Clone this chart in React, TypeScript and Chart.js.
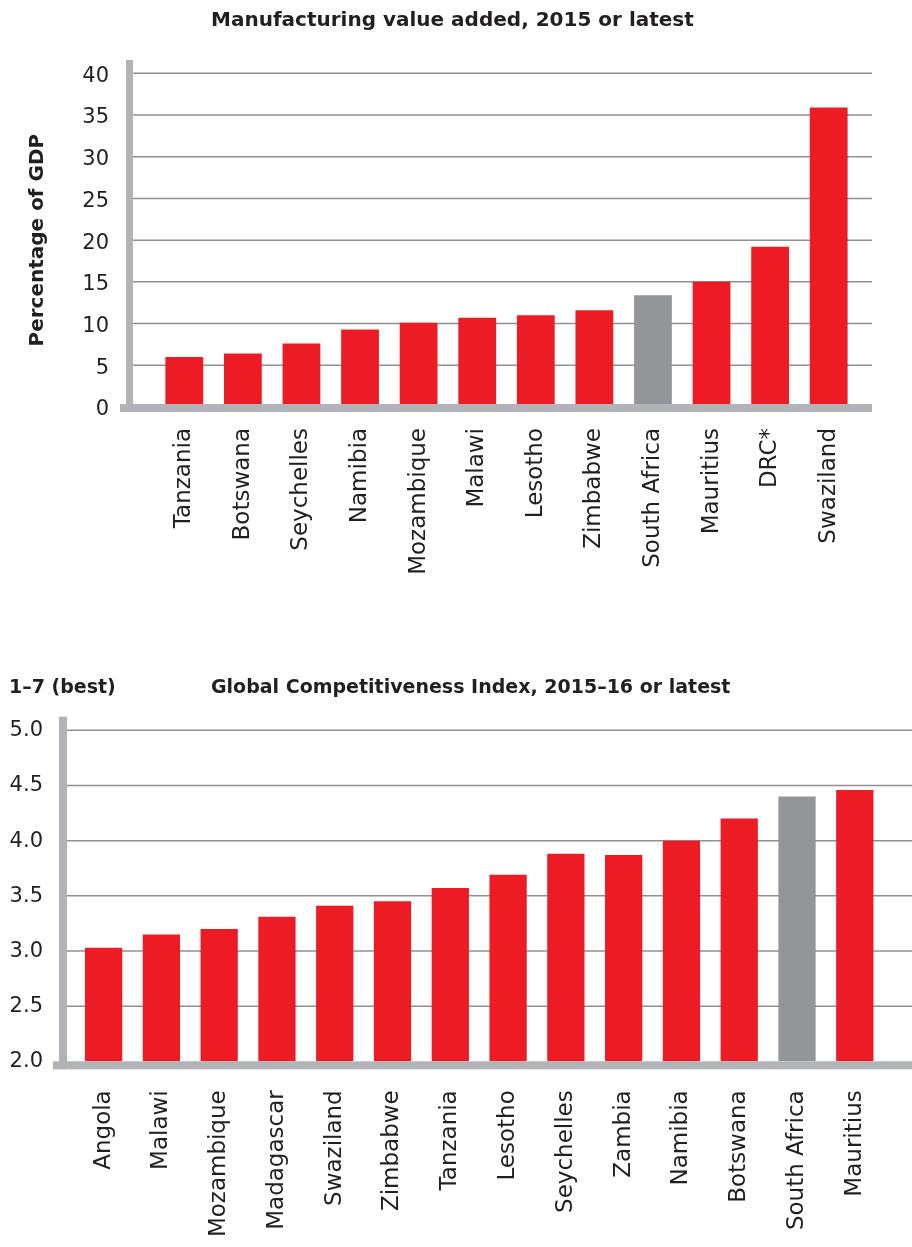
import React, { useEffect, useRef } from 'react';
import { Chart, registerables } from 'chart.js';

Chart.register(...registerables);

// Colours
const RED = '#ed1c24';
const GREY_BAR = '#939598';
const GRID = '#8e9093';
const AXIS = '#b1b3b6';
const INK = '#231f20';
const HIGHLIGHT = 'South Africa';

// Manufacturing value added, % of GDP
const mvaCountries = [
  'Tanzania', 'Botswana', 'Seychelles', 'Namibia', 'Mozambique', 'Malawi',
  'Lesotho', 'Zimbabwe', 'South Africa', 'Mauritius', 'DRC*', 'Swaziland',
];
const mvaValues = [6.0, 6.4, 7.6, 9.3, 10.1, 10.7, 11.0, 11.6, 13.4, 15.0, 19.2, 35.9];

// Global Competitiveness Index score, 1–7
const gciCountries = [
  'Angola', 'Malawi', 'Mozambique', 'Madagascar', 'Swaziland', 'Zimbabwe', 'Tanzania',
  'Lesotho', 'Seychelles', 'Zambia', 'Namibia', 'Botswana', 'South Africa', 'Mauritius',
];
const gciValues = [3.03, 3.15, 3.2, 3.31, 3.41, 3.45, 3.57, 3.69, 3.88, 3.87, 4.0, 4.2, 4.4, 4.46];

type Panel = {
  labels: string[];
  values: number[];
  min: number;
  max: number;
  step: number;
  decimals: number;
  title: string;
  titleSize: number;
  unit?: string;
  yTitle?: string;
  // layout (canvas pixels)
  top: number;
  height: number;
  plotLeft: number;
  plotRight: number;
  plotTop: number;
  plotBottom: number;
  gridLeft: number;
  gridRight: number;
  axisLeft: number;
  axisWidth: number;
  axisTop: number;
  baseLeft: number;
  baseOffset: number;
  yTickPad: number;
  yLabelOffset: number;
  xTickPad: number;
  titleX: number;
  titleY: number;
};

const mvaPanel: Panel = {
  labels: mvaCountries,
  values: mvaValues,
  min: 0,
  max: 40,
  step: 5,
  decimals: 0,
  title: 'Manufacturing value added, 2015 or latest',
  titleSize: 20,
  yTitle: 'Percentage of GDP',
  top: 0,
  height: 640,
  plotLeft: 155,
  plotRight: 858,
  plotTop: 73.3,
  plotBottom: 407,
  gridLeft: 133,
  gridRight: 872,
  axisLeft: 126,
  axisWidth: 7,
  axisTop: 60,
  baseLeft: 120,
  baseOffset: -3,
  yTickPad: 46,
  yLabelOffset: 3,
  xTickPad: 21,
  titleX: 211,
  titleY: 21,
};

const gciPanel: Panel = {
  labels: gciCountries,
  values: gciValues,
  min: 2,
  max: 5,
  step: 0.5,
  decimals: 1,
  title: 'Global Competitiveness Index, 2015–16 or latest',
  titleSize: 19,
  unit: '1–7 (best)',
  top: 650,
  height: 597,
  plotLeft: 74.7,
  plotRight: 895.3,
  plotTop: 80.3,
  plotBottom: 411.3,
  gridLeft: 67,
  gridRight: 912,
  axisLeft: 59,
  axisWidth: 8,
  axisTop: 66.7,
  baseLeft: 53,
  baseOffset: 0,
  yTickPad: 31.7,
  yLabelOffset: 0.5,
  xTickPad: 29,
  titleX: 211,
  titleY: 38,
};

// Grid lines run past the category area; axis bars are thick grey rules.
const framePlugin = {
  id: 'frame',
  beforeDatasetsDraw(chart: any, _args: any, opts: any) {
    const p: Panel = opts.panel;
    const y = chart.scales.y;
    const ctx = chart.ctx;
    ctx.save();
    ctx.strokeStyle = GRID;
    ctx.lineWidth = 1.5;
    y.ticks.forEach((t: any) => {
      if (t.value === y.min) return;
      const py = y.getPixelForValue(t.value);
      ctx.beginPath();
      ctx.moveTo(p.gridLeft, py);
      ctx.lineTo(p.gridRight, py);
      ctx.stroke();
    });
    ctx.restore();
  },
  afterDatasetsDraw(chart: any, _args: any, opts: any) {
    const p: Panel = opts.panel;
    const y = chart.scales.y;
    const ctx = chart.ctx;
    const base = y.getPixelForValue(y.min) + p.baseOffset;
    ctx.save();
    ctx.fillStyle = AXIS;
    ctx.fillRect(p.axisLeft, p.axisTop, p.axisWidth, base + 8 - p.axisTop);
    ctx.fillRect(p.baseLeft, base, p.gridRight - p.baseLeft, 8);
    ctx.restore();
  },
  afterDraw(chart: any, _args: any, opts: any) {
    const p: Panel = opts.panel;
    const ctx = chart.ctx;
    ctx.save();
    ctx.fillStyle = INK;
    ctx.textBaseline = 'middle';
    ctx.textAlign = 'left';
    ctx.font = `bold ${p.titleSize}px "DejaVu Sans"`;
    ctx.fillText(p.title, p.titleX, p.titleY);
    if (p.unit) {
      ctx.fillText(p.unit, 9, p.titleY);
    }
    ctx.restore();
  },
};

function BarPanel({ p }: { p: Panel }) {
  const ref = useRef<HTMLCanvasElement | null>(null);

  useEffect(() => {
    if (!ref.current) return;
    const chart = new Chart(ref.current, {
      type: 'bar',
      data: {
        labels: p.labels,
        datasets: [
          {
            data: p.values,
            backgroundColor: p.labels.map((c) => (c === HIGHLIGHT ? GREY_BAR : RED)),
            borderWidth: 0,
            barPercentage: 0.645,
            categoryPercentage: 1,
          },
        ],
      },
      options: {
        responsive: false,
        animation: false,
        devicePixelRatio: 1,
        layout: {
          padding: { top: p.plotTop, right: 912 - p.plotRight, left: 0, bottom: 0 },
        },
        plugins: {
          legend: { display: false },
          tooltip: { enabled: false },
          title: { display: false },
          frame: { panel: p },
        } as any,
        scales: {
          x: {
            grid: { display: false, drawTicks: false },
            border: { display: false },
            ticks: {
              autoSkip: false,
              minRotation: 90,
              maxRotation: 90,
              padding: p.xTickPad,
              color: INK,
              font: { family: '"DejaVu Sans"', size: 23 },
            },
            afterFit: (s: any) => {
              s.height = p.height - p.plotBottom;
            },
          },
          y: {
            min: p.min,
            max: p.max,
            grid: { display: false, drawTicks: false },
            border: { display: false },
            ticks: {
              stepSize: p.step,
              padding: p.yTickPad,
              labelOffset: p.yLabelOffset,
              color: INK,
              font: { family: '"DejaVu Sans"', size: 21 },
              callback: (v: any) => Number(v).toFixed(p.decimals),
            },
            title: {
              display: !!p.yTitle,
              text: p.yTitle || '',
              color: INK,
              font: { family: '"DejaVu Sans"', size: 20, weight: 'bold' },
              padding: { top: 26, bottom: 0 },
            },
            afterFit: (s: any) => {
              s.width = p.plotLeft;
            },
          },
        },
      },
      plugins: [framePlugin],
    });
    return () => chart.destroy();
  }, [p]);

  return (
    <canvas
      ref={ref}
      width={912}
      height={p.height}
      style={{ position: 'absolute', left: 0, top: p.top, display: 'block' }}
    />
  );
}

export default function App() {
  return (
    <div
      style={{
        position: 'absolute',
        left: 0,
        top: 0,
        width: 912,
        height: 1247,
        background: '#ffffff',
        overflow: 'hidden',
      }}
    >
      <BarPanel p={mvaPanel} />
      <BarPanel p={gciPanel} />
    </div>
  );
}
